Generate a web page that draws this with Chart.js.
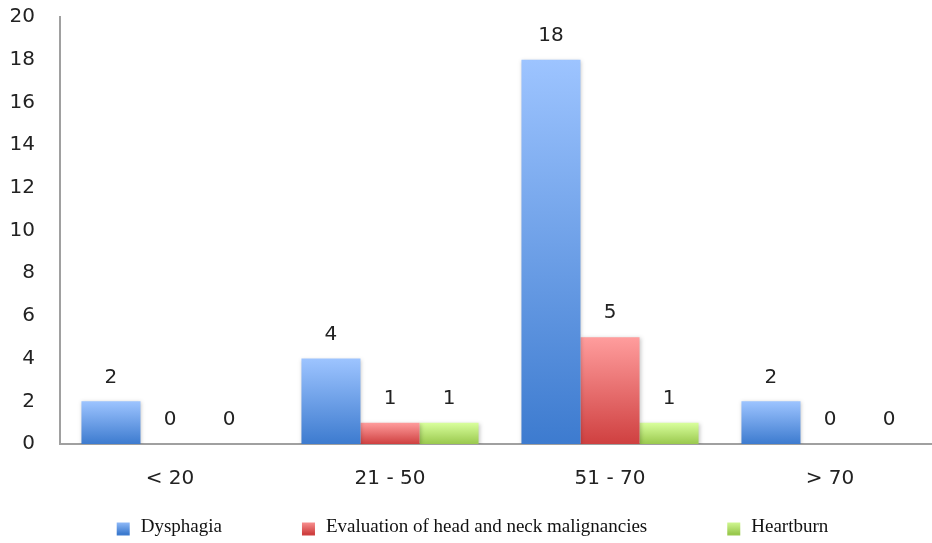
<!DOCTYPE html>
<html>
<head>
<meta charset="utf-8">
<script src="https://cdn.jsdelivr.net/npm/chart.js@4"></script>
<style>
  html, body { margin: 0; padding: 0; background: #fff; overflow: hidden; }
  #wrap { width: 945px; height: 543px; }
</style>
</head>
<body>
<div id="wrap"><canvas id="chart" width="945" height="543"></canvas></div>
<script>
var ageGroups = ['< 20', '21 - 50', '51 - 70', '> 70'];
var dysphagia = [2, 4, 18, 2];
var headNeck = [0, 1, 5, 0];
var heartburn = [0, 1, 1, 0];
var yTicks = [0, 2, 4, 6, 8, 10, 12, 14, 16, 18, 20];

// top / bottom colours of each series gradient
var shades = {
    blue: ['#9dc4ff', '#3d7bcf'],
    red: ['#ff9d9d', '#cf4040'],
    green: ['#d9ff9d', '#9ac94e']
};
var seriesShades = [shades.blue, shades.red, shades.green];

function barFill(pair) {
    return function(context) {
        var chart = context.chart;
        if (!chart.chartArea || context.type !== 'data') return pair[0];
        var y = chart.scales.y;
        var top = y.getPixelForValue(context.raw);
        var base = y.getPixelForValue(0);
        if (base - top < 1) return pair[0];
        var g = chart.ctx.createLinearGradient(0, top, 0, base);
        g.addColorStop(0, pair[0]);
        g.addColorStop(1, pair[1]);
        return g;
    };
}

// value labels above each bar
var valueLabels = {
    id: 'valueLabels',
    afterDatasetsDraw: function(chart) {
        var ctx = chart.ctx;
        ctx.save();
        ctx.font = '20px "DejaVu Sans"';
        ctx.fillStyle = '#222';
        ctx.textAlign = 'center';
        ctx.textBaseline = 'middle';
        chart.data.datasets.forEach(function(ds, i) {
            chart.getDatasetMeta(i).data.forEach(function(bar, j) {
                ctx.fillText(ds.data[j], bar.x, bar.y - 24);
            });
        });
        ctx.restore();
    }
};

// soft drop shadow under bars
var barShadow = {
    id: 'barShadow',
    beforeDatasetsDraw: function(chart) {
        var ctx = chart.ctx;
        ctx.save();
        ctx.shadowColor = 'rgba(0,0,0,0.22)';
        ctx.shadowBlur = 4;
        ctx.shadowOffsetX = 1;
        ctx.shadowOffsetY = 1;
    },
    afterDatasetsDraw: function(chart) {
        chart.ctx.restore();
    }
};

// legend row at the bottom, wide gaps between entries
var bottomLegend = {
    id: 'bottomLegend',
    afterDraw: function(chart) {
        var ctx = chart.ctx;
        var box = 13, textGap = 11, itemGap = 80, cy = 527;
        ctx.save();
        ctx.font = '19px "Liberation Serif"';
        var widths = chart.data.datasets.map(function(ds) {
            return box + textGap + ctx.measureText(ds.label).width;
        });
        var total = widths.reduce(function(a, b) { return a + b; }, 0) + itemGap * (widths.length - 1);
        var x = (chart.width - total) / 2;
        chart.data.datasets.forEach(function(ds, i) {
            var g = ctx.createLinearGradient(0, cy - box / 2, 0, cy + box / 2);
            g.addColorStop(0, seriesShades[i][0]);
            g.addColorStop(1, seriesShades[i][1]);
            ctx.fillStyle = g;
            ctx.fillRect(x, cy - box / 2 + 2, box, box);
            ctx.fillStyle = '#111';
            ctx.textAlign = 'left';
            ctx.textBaseline = 'middle';
            ctx.fillText(ds.label, x + box + textGap, cy);
            x += widths[i] + itemGap;
        });
        ctx.restore();
    }
};

var ctx = document.getElementById('chart').getContext('2d');
new Chart(ctx, {
    type: 'bar',
    data: {
        labels: ageGroups,
        datasets: [{
            label: 'Dysphagia',
            data: dysphagia,
            backgroundColor: barFill(shades.blue)
        }, {
            label: 'Evaluation of head and neck malignancies',
            data: headNeck,
            backgroundColor: barFill(shades.red)
        }, {
            label: 'Heartburn',
            data: heartburn,
            backgroundColor: barFill(shades.green)
        }]
    },
    plugins: [barShadow, valueLabels, bottomLegend],
    options: {
        responsive: false,
        animation: false,
        layout: { padding: { top: 17, right: 5, left: 0, bottom: 44 } },
        datasets: {
            bar: { barPercentage: 1, categoryPercentage: 0.805 }
        },
        scales: {
            x: {
                afterFit: function(scale) { scale.height = 55; },
                grid: { display: false },
                border: { display: true, color: '#a0a0a0', width: 2 },
                ticks: {
                    color: '#222',
                    font: { family: 'DejaVu Sans', size: 20 },
                    padding: 15
                }
            },
            y: {
                min: 0,
                max: 20,
                afterBuildTicks: function(scale) {
                    scale.ticks = yTicks.map(function(v) { return { value: v }; });
                },
                afterFit: function(scale) {
                    scale.width = 60;
                    scale.paddingTop = 0;
                },
                grid: { display: false },
                border: { display: true, color: '#a0a0a0', width: 2 },
                ticks: {
                    color: '#222',
                    font: { family: 'DejaVu Sans', size: 20 },
                    padding: 17
                }
            }
        },
        plugins: {
            tooltip: { enabled: false },
            legend: { display: false }
        }
    }
});
</script>
</body>
</html>
